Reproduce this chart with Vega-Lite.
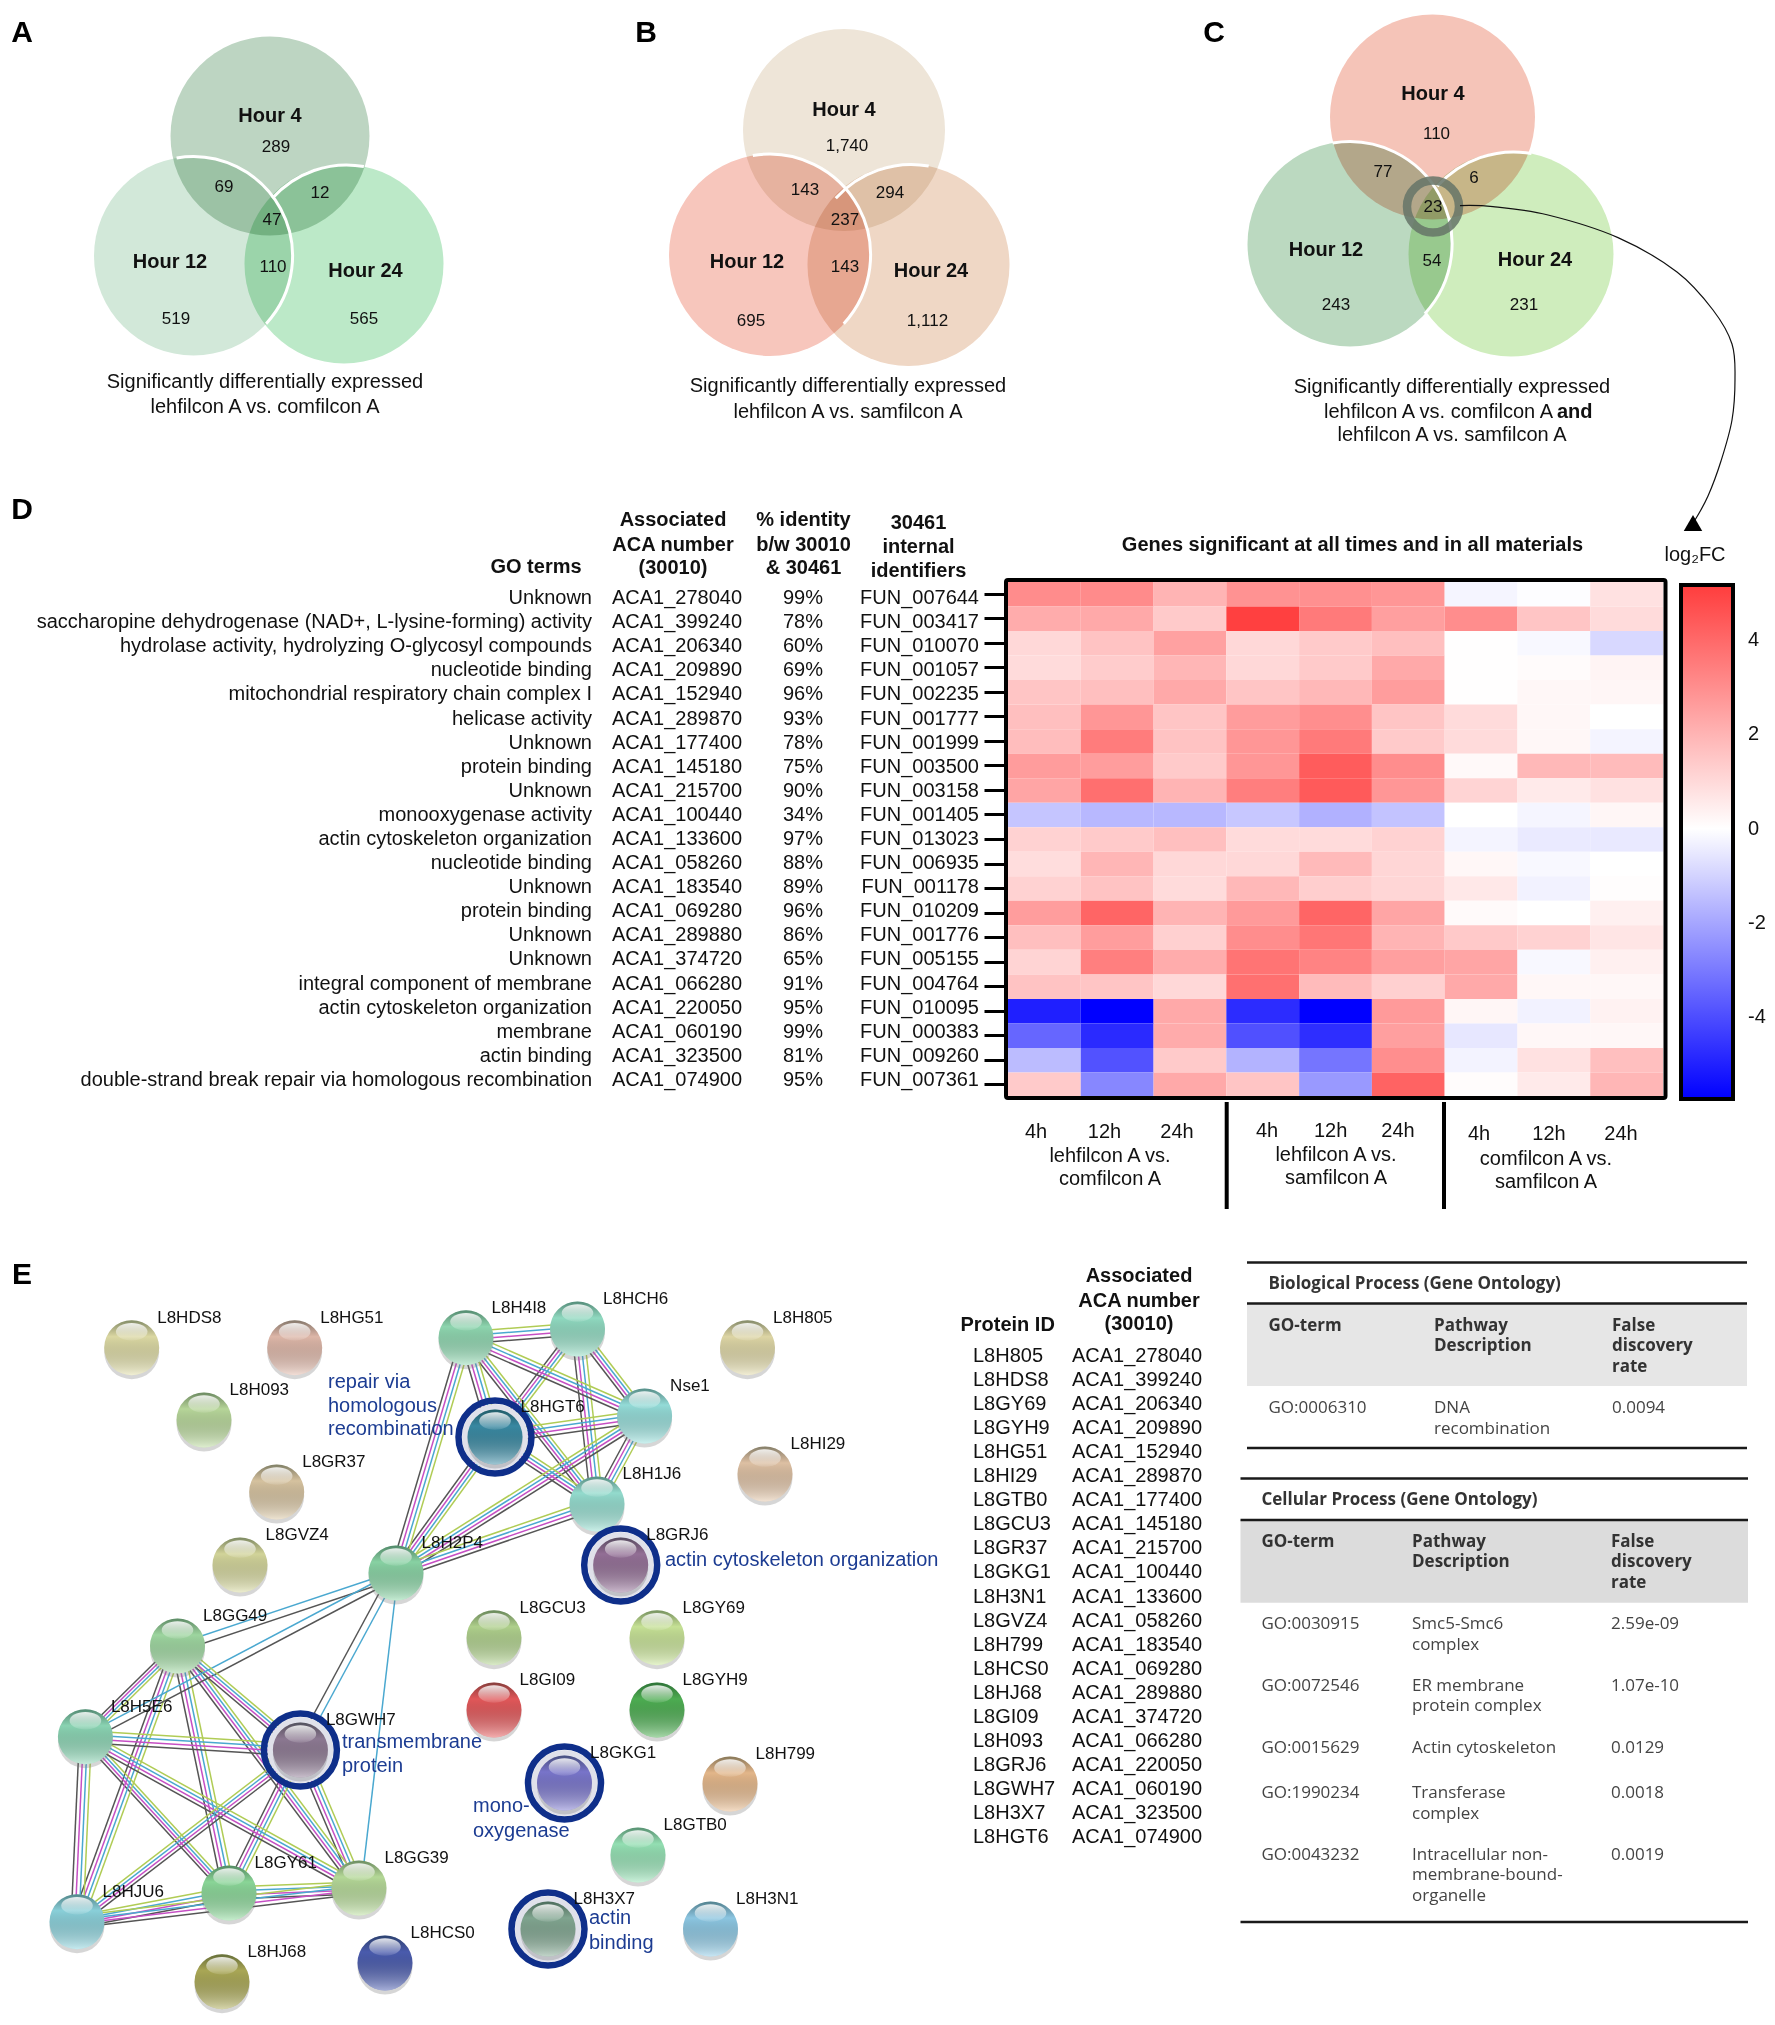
{"$schema":"https://vega.github.io/schema/vega-lite/v6.json","width":1775,"height":2025,"padding":0,"autosize":{"type":"none"},"background":"white","config":{"view":{"stroke":null},"text":{"font":"Liberation Sans"},"axis":{"grid":false}},"resolve":{"scale":{"x":"independent","y":"independent","color":"independent","size":"independent"}},"datasets":{"nodes":[{"id":"L8HDS8","x":131.7,"y":1347.7},{"id":"L8HG51","x":294.7,"y":1347.7},{"id":"L8H093","x":204,"y":1420},{"id":"L8GR37","x":276.7,"y":1492},{"id":"L8GVZ4","x":240,"y":1565},{"id":"L8H2P4","x":396,"y":1573},{"id":"L8GG49","x":177.5,"y":1646},{"id":"L8H4I8","x":466,"y":1337.7},{"id":"L8HCH6","x":577.5,"y":1329},{"id":"L8H805","x":747.5,"y":1347.7},{"id":"Nse1","x":644.6,"y":1416},{"id":"L8HGT6","x":495,"y":1437,"ring":true},{"id":"L8HI29","x":765,"y":1474},{"id":"L8H1J6","x":597,"y":1504},{"id":"L8GRJ6","x":620.7,"y":1565,"ring":true},{"id":"L8GCU3","x":494,"y":1637.7},{"id":"L8GY69","x":657,"y":1637.7},{"id":"L8H5E6","x":85.4,"y":1736.7},{"id":"L8GWH7","x":300.4,"y":1750,"ring":true},{"id":"L8GI09","x":494,"y":1710},{"id":"L8GYH9","x":657,"y":1710},{"id":"L8GKG1","x":564.5,"y":1783,"ring":true},{"id":"L8H799","x":730,"y":1784},{"id":"L8GG39","x":359,"y":1888},{"id":"L8GY61","x":229,"y":1893},{"id":"L8HJU6","x":77,"y":1921.7},{"id":"L8HJ68","x":222,"y":1981.7},{"id":"L8HCS0","x":385,"y":1963},{"id":"L8GTB0","x":638,"y":1855},{"id":"L8H3X7","x":548,"y":1929,"ring":true},{"id":"L8H3N1","x":710.5,"y":1929}],"edges":[{"source":"L8H4I8","target":"L8HGT6","dir":"V","ch":"full"},{"source":"L8H4I8","target":"L8H1J6","dir":"V","ch":"full"},{"source":"L8H4I8","target":"L8H2P4","dir":"V","ch":"full"},{"source":"L8HCH6","target":"Nse1","dir":"V","ch":"full"},{"source":"L8HCH6","target":"L8HGT6","dir":"V","ch":"full"},{"source":"L8HCH6","target":"L8H1J6","dir":"V","ch":"full"},{"source":"Nse1","target":"L8H1J6","dir":"V","ch":"full"},{"source":"L8HGT6","target":"L8H2P4","dir":"V","ch":"full"},{"source":"L8HGT6","target":"L8H1J6","dir":"H","ch":"full"},{"source":"L8H4I8","target":"L8HCH6","dir":"H","ch":"full"},{"source":"L8H4I8","target":"Nse1","dir":"H","ch":"full"},{"source":"Nse1","target":"L8HGT6","dir":"H","ch":"full"},{"source":"Nse1","target":"L8H2P4","dir":"H","ch":"full"},{"source":"L8H1J6","target":"L8H2P4","dir":"H","ch":"full"},{"source":"L8GG49","target":"L8H5E6","dir":"V","ch":"full"},{"source":"L8GG49","target":"L8GWH7","dir":"H","ch":"full"},{"source":"L8GG49","target":"L8HJU6","dir":"V","ch":"full"},{"source":"L8GG49","target":"L8GY61","dir":"V","ch":"full"},{"source":"L8GG49","target":"L8GG39","dir":"V","ch":"full"},{"source":"L8H5E6","target":"L8GWH7","dir":"H","ch":"full"},{"source":"L8H5E6","target":"L8HJU6","dir":"V","ch":"full"},{"source":"L8H5E6","target":"L8GY61","dir":"V","ch":"full"},{"source":"L8H5E6","target":"L8GG39","dir":"H","ch":"full"},{"source":"L8GWH7","target":"L8HJU6","dir":"H","ch":"full"},{"source":"L8GWH7","target":"L8GY61","dir":"V","ch":"full"},{"source":"L8GWH7","target":"L8GG39","dir":"V","ch":"full"},{"source":"L8HJU6","target":"L8GY61","dir":"H","ch":"full"},{"source":"L8HJU6","target":"L8GG39","dir":"H","ch":"full"},{"source":"L8GY61","target":"L8GG39","dir":"H","ch":"full"},{"source":"L8H2P4","target":"L8GG49","dir":"H","ch":"gc"},{"source":"L8H2P4","target":"L8H5E6","dir":"H","ch":"gc"},{"source":"L8H2P4","target":"L8GWH7","dir":"V","ch":"gc"},{"source":"L8H2P4","target":"L8GG39","dir":"V","ch":"c"}],"genes":[{"fun":"FUN_007644","go":"Unknown","aca":"ACA1_278040","pct":"99%"},{"fun":"FUN_003417","go":"saccharopine dehydrogenase (NAD+, L-lysine-forming) activity","aca":"ACA1_399240","pct":"78%"},{"fun":"FUN_010070","go":"hydrolase activity, hydrolyzing O-glycosyl compounds","aca":"ACA1_206340","pct":"60%"},{"fun":"FUN_001057","go":"nucleotide binding","aca":"ACA1_209890","pct":"69%"},{"fun":"FUN_002235","go":"mitochondrial respiratory chain complex I","aca":"ACA1_152940","pct":"96%"},{"fun":"FUN_001777","go":"helicase activity","aca":"ACA1_289870","pct":"93%"},{"fun":"FUN_001999","go":"Unknown","aca":"ACA1_177400","pct":"78%"},{"fun":"FUN_003500","go":"protein binding","aca":"ACA1_145180","pct":"75%"},{"fun":"FUN_003158","go":"Unknown","aca":"ACA1_215700","pct":"90%"},{"fun":"FUN_001405","go":"monooxygenase activity","aca":"ACA1_100440","pct":"34%"},{"fun":"FUN_013023","go":"actin cytoskeleton organization","aca":"ACA1_133600","pct":"97%"},{"fun":"FUN_006935","go":"nucleotide binding","aca":"ACA1_058260","pct":"88%"},{"fun":"FUN_001178","go":"Unknown","aca":"ACA1_183540","pct":"89%"},{"fun":"FUN_010209","go":"protein binding","aca":"ACA1_069280","pct":"96%"},{"fun":"FUN_001776","go":"Unknown","aca":"ACA1_289880","pct":"86%"},{"fun":"FUN_005155","go":"Unknown","aca":"ACA1_374720","pct":"65%"},{"fun":"FUN_004764","go":"integral component of membrane","aca":"ACA1_066280","pct":"91%"},{"fun":"FUN_010095","go":"actin cytoskeleton organization","aca":"ACA1_220050","pct":"95%"},{"fun":"FUN_000383","go":"membrane","aca":"ACA1_060190","pct":"99%"},{"fun":"FUN_009260","go":"actin binding","aca":"ACA1_323500","pct":"81%"},{"fun":"FUN_007361","go":"double-strand break repair via homologous recombination","aca":"ACA1_074900","pct":"95%"}],"proteins":[{"p":"L8H805","a":"ACA1_278040"},{"p":"L8HDS8","a":"ACA1_399240"},{"p":"L8GY69","a":"ACA1_206340"},{"p":"L8GYH9","a":"ACA1_209890"},{"p":"L8HG51","a":"ACA1_152940"},{"p":"L8HI29","a":"ACA1_289870"},{"p":"L8GTB0","a":"ACA1_177400"},{"p":"L8GCU3","a":"ACA1_145180"},{"p":"L8GR37","a":"ACA1_215700"},{"p":"L8GKG1","a":"ACA1_100440"},{"p":"L8H3N1","a":"ACA1_133600"},{"p":"L8GVZ4","a":"ACA1_058260"},{"p":"L8H799","a":"ACA1_183540"},{"p":"L8HCS0","a":"ACA1_069280"},{"p":"L8HJ68","a":"ACA1_289880"},{"p":"L8GI09","a":"ACA1_374720"},{"p":"L8H093","a":"ACA1_066280"},{"p":"L8GRJ6","a":"ACA1_220050"},{"p":"L8GWH7","a":"ACA1_060190"},{"p":"L8H3X7","a":"ACA1_323500"},{"p":"L8HGT6","a":"ACA1_074900"}],"venn":[{"key":"A4","h":4,"p":"A","x":270,"y":136},{"key":"A12","h":12,"p":"A","x":193.5,"y":256},{"key":"A24","h":24,"p":"A","x":344,"y":264},{"key":"B4","h":4,"p":"B","x":844,"y":130},{"key":"B12","h":12,"p":"B","x":770,"y":255},{"key":"B24","h":24,"p":"B","x":908.5,"y":265},{"key":"C4","h":4,"p":"C","x":1432.5,"y":117},{"key":"C12","h":12,"p":"C","x":1350,"y":244},{"key":"C24","h":24,"p":"C","x":1511,"y":254}],"cells":[
{"f":"FUN_007644","c":"lc 4h","v":3.07},{"f":"FUN_007644","c":"lc 12h","v":3.1},{"f":"FUN_007644","c":"lc 24h","v":2.0},{"f":"FUN_007644","c":"ls 4h","v":2.9},{"f":"FUN_007644","c":"ls 12h","v":2.95},{"f":"FUN_007644","c":"ls 24h","v":2.8},{"f":"FUN_007644","c":"cs 4h","v":-0.22},{"f":"FUN_007644","c":"cs 12h","v":-0.05},{"f":"FUN_007644","c":"cs 24h","v":0.8},
{"f":"FUN_003417","c":"lc 4h","v":2.2},{"f":"FUN_003417","c":"lc 12h","v":2.3},{"f":"FUN_003417","c":"lc 24h","v":1.4},{"f":"FUN_003417","c":"ls 4h","v":5.1},{"f":"FUN_003417","c":"ls 12h","v":3.55},{"f":"FUN_003417","c":"ls 24h","v":2.55},{"f":"FUN_003417","c":"cs 4h","v":3.05},{"f":"FUN_003417","c":"cs 12h","v":1.55},{"f":"FUN_003417","c":"cs 24h","v":0.95},
{"f":"FUN_010070","c":"lc 4h","v":1.05},{"f":"FUN_010070","c":"lc 12h","v":1.6},{"f":"FUN_010070","c":"lc 24h","v":2.5},{"f":"FUN_010070","c":"ls 4h","v":1.05},{"f":"FUN_010070","c":"ls 12h","v":1.4},{"f":"FUN_010070","c":"ls 24h","v":1.7},{"f":"FUN_010070","c":"cs 4h","v":0.02},{"f":"FUN_010070","c":"cs 12h","v":-0.15},{"f":"FUN_010070","c":"cs 24h","v":-0.88},
{"f":"FUN_001057","c":"lc 4h","v":0.95},{"f":"FUN_001057","c":"lc 12h","v":1.35},{"f":"FUN_001057","c":"lc 24h","v":1.95},{"f":"FUN_001057","c":"ls 4h","v":1.05},{"f":"FUN_001057","c":"ls 12h","v":1.4},{"f":"FUN_001057","c":"ls 24h","v":2.3},{"f":"FUN_001057","c":"cs 4h","v":0.03},{"f":"FUN_001057","c":"cs 12h","v":0.1},{"f":"FUN_001057","c":"cs 24h","v":0.3},
{"f":"FUN_002235","c":"lc 4h","v":1.55},{"f":"FUN_002235","c":"lc 12h","v":1.7},{"f":"FUN_002235","c":"lc 24h","v":2.3},{"f":"FUN_002235","c":"ls 4h","v":1.55},{"f":"FUN_002235","c":"ls 12h","v":1.9},{"f":"FUN_002235","c":"ls 24h","v":2.6},{"f":"FUN_002235","c":"cs 4h","v":0.02},{"f":"FUN_002235","c":"cs 12h","v":0.2},{"f":"FUN_002235","c":"cs 24h","v":0.25},
{"f":"FUN_001777","c":"lc 4h","v":1.7},{"f":"FUN_001777","c":"lc 12h","v":2.8},{"f":"FUN_001777","c":"lc 24h","v":1.55},{"f":"FUN_001777","c":"ls 4h","v":2.65},{"f":"FUN_001777","c":"ls 12h","v":3.0},{"f":"FUN_001777","c":"ls 24h","v":1.55},{"f":"FUN_001777","c":"cs 4h","v":0.95},{"f":"FUN_001777","c":"cs 12h","v":0.2},{"f":"FUN_001777","c":"cs 24h","v":0},
{"f":"FUN_001999","c":"lc 4h","v":1.75},{"f":"FUN_001999","c":"lc 12h","v":3.5},{"f":"FUN_001999","c":"lc 24h","v":1.6},{"f":"FUN_001999","c":"ls 4h","v":2.8},{"f":"FUN_001999","c":"ls 12h","v":3.55},{"f":"FUN_001999","c":"ls 24h","v":1.4},{"f":"FUN_001999","c":"cs 4h","v":0.95},{"f":"FUN_001999","c":"cs 12h","v":0.2},{"f":"FUN_001999","c":"cs 24h","v":-0.25},
{"f":"FUN_003500","c":"lc 4h","v":2.65},{"f":"FUN_003500","c":"lc 12h","v":2.6},{"f":"FUN_003500","c":"lc 24h","v":1.4},{"f":"FUN_003500","c":"ls 4h","v":2.8},{"f":"FUN_003500","c":"ls 12h","v":4.35},{"f":"FUN_003500","c":"ls 24h","v":3.05},{"f":"FUN_003500","c":"cs 4h","v":0.15},{"f":"FUN_003500","c":"cs 12h","v":1.9},{"f":"FUN_003500","c":"cs 24h","v":1.8},
{"f":"FUN_003158","c":"lc 4h","v":2.4},{"f":"FUN_003158","c":"lc 12h","v":3.85},{"f":"FUN_003158","c":"lc 24h","v":2.0},{"f":"FUN_003158","c":"ls 4h","v":3.45},{"f":"FUN_003158","c":"ls 12h","v":4.4},{"f":"FUN_003158","c":"ls 24h","v":2.8},{"f":"FUN_003158","c":"cs 4h","v":1.15},{"f":"FUN_003158","c":"cs 12h","v":0.55},{"f":"FUN_003158","c":"cs 24h","v":0.8},
{"f":"FUN_001405","c":"lc 4h","v":-1.3},{"f":"FUN_001405","c":"lc 12h","v":-1.6},{"f":"FUN_001405","c":"lc 24h","v":-1.6},{"f":"FUN_001405","c":"ls 4h","v":-1.25},{"f":"FUN_001405","c":"ls 12h","v":-1.75},{"f":"FUN_001405","c":"ls 24h","v":-1.35},{"f":"FUN_001405","c":"cs 4h","v":0},{"f":"FUN_001405","c":"cs 12h","v":-0.22},{"f":"FUN_001405","c":"cs 24h","v":0.25},
{"f":"FUN_013023","c":"lc 4h","v":1.2},{"f":"FUN_013023","c":"lc 12h","v":1.4},{"f":"FUN_013023","c":"lc 24h","v":1.7},{"f":"FUN_013023","c":"ls 4h","v":0.95},{"f":"FUN_013023","c":"ls 12h","v":0.95},{"f":"FUN_013023","c":"ls 24h","v":1.2},{"f":"FUN_013023","c":"cs 4h","v":-0.25},{"f":"FUN_013023","c":"cs 12h","v":-0.47},{"f":"FUN_013023","c":"cs 24h","v":-0.5},
{"f":"FUN_006935","c":"lc 4h","v":0.9},{"f":"FUN_006935","c":"lc 12h","v":1.95},{"f":"FUN_006935","c":"lc 24h","v":1.05},{"f":"FUN_006935","c":"ls 4h","v":1.05},{"f":"FUN_006935","c":"ls 12h","v":1.85},{"f":"FUN_006935","c":"ls 24h","v":1.1},{"f":"FUN_006935","c":"cs 4h","v":0.2},{"f":"FUN_006935","c":"cs 12h","v":-0.15},{"f":"FUN_006935","c":"cs 24h","v":0},
{"f":"FUN_001178","c":"lc 4h","v":1.2},{"f":"FUN_001178","c":"lc 12h","v":1.6},{"f":"FUN_001178","c":"lc 24h","v":0.95},{"f":"FUN_001178","c":"ls 4h","v":1.9},{"f":"FUN_001178","c":"ls 12h","v":1.3},{"f":"FUN_001178","c":"ls 24h","v":1.1},{"f":"FUN_001178","c":"cs 4h","v":0.6},{"f":"FUN_001178","c":"cs 12h","v":-0.3},{"f":"FUN_001178","c":"cs 24h","v":0.05},
{"f":"FUN_010209","c":"lc 4h","v":2.6},{"f":"FUN_010209","c":"lc 12h","v":4.1},{"f":"FUN_010209","c":"lc 24h","v":2.0},{"f":"FUN_010209","c":"ls 4h","v":2.7},{"f":"FUN_010209","c":"ls 12h","v":4.1},{"f":"FUN_010209","c":"ls 24h","v":2.4},{"f":"FUN_010209","c":"cs 4h","v":0.12},{"f":"FUN_010209","c":"cs 12h","v":0},{"f":"FUN_010209","c":"cs 24h","v":0.4},
{"f":"FUN_001776","c":"lc 4h","v":1.7},{"f":"FUN_001776","c":"lc 12h","v":2.6},{"f":"FUN_001776","c":"lc 24h","v":1.25},{"f":"FUN_001776","c":"ls 4h","v":3.05},{"f":"FUN_001776","c":"ls 12h","v":3.65},{"f":"FUN_001776","c":"ls 24h","v":2.0},{"f":"FUN_001776","c":"cs 4h","v":1.45},{"f":"FUN_001776","c":"cs 12h","v":1.2},{"f":"FUN_001776","c":"cs 24h","v":0.7},
{"f":"FUN_005155","c":"lc 4h","v":1.15},{"f":"FUN_005155","c":"lc 12h","v":3.4},{"f":"FUN_005155","c":"lc 24h","v":2.2},{"f":"FUN_005155","c":"ls 4h","v":3.7},{"f":"FUN_005155","c":"ls 12h","v":3.3},{"f":"FUN_005155","c":"ls 24h","v":2.55},{"f":"FUN_005155","c":"cs 4h","v":2.4},{"f":"FUN_005155","c":"cs 12h","v":-0.15},{"f":"FUN_005155","c":"cs 24h","v":0.4},
{"f":"FUN_004764","c":"lc 4h","v":1.6},{"f":"FUN_004764","c":"lc 12h","v":1.55},{"f":"FUN_004764","c":"lc 24h","v":1.05},{"f":"FUN_004764","c":"ls 4h","v":3.8},{"f":"FUN_004764","c":"ls 12h","v":1.8},{"f":"FUN_004764","c":"ls 24h","v":1.25},{"f":"FUN_004764","c":"cs 4h","v":2.3},{"f":"FUN_004764","c":"cs 12h","v":0.2},{"f":"FUN_004764","c":"cs 24h","v":0.2},
{"f":"FUN_010095","c":"lc 4h","v":-5.05},{"f":"FUN_010095","c":"lc 12h","v":-5.74},{"f":"FUN_010095","c":"lc 24h","v":2.3},{"f":"FUN_010095","c":"ls 4h","v":-4.75},{"f":"FUN_010095","c":"ls 12h","v":-5.74},{"f":"FUN_010095","c":"ls 24h","v":2.7},{"f":"FUN_010095","c":"cs 4h","v":0.25},{"f":"FUN_010095","c":"cs 12h","v":-0.3},{"f":"FUN_010095","c":"cs 24h","v":0.35},
{"f":"FUN_000383","c":"lc 4h","v":-3.45},{"f":"FUN_000383","c":"lc 12h","v":-4.8},{"f":"FUN_000383","c":"lc 24h","v":2.25},{"f":"FUN_000383","c":"ls 4h","v":-3.95},{"f":"FUN_000383","c":"ls 12h","v":-4.7},{"f":"FUN_000383","c":"ls 24h","v":2.55},{"f":"FUN_000383","c":"cs 4h","v":-0.55},{"f":"FUN_000383","c":"cs 12h","v":0.2},{"f":"FUN_000383","c":"cs 24h","v":0.2},
{"f":"FUN_009260","c":"lc 4h","v":-1.5},{"f":"FUN_009260","c":"lc 12h","v":-3.9},{"f":"FUN_009260","c":"lc 24h","v":1.4},{"f":"FUN_009260","c":"ls 4h","v":-1.7},{"f":"FUN_009260","c":"ls 12h","v":-3.1},{"f":"FUN_009260","c":"ls 24h","v":3.0},{"f":"FUN_009260","c":"cs 4h","v":-0.28},{"f":"FUN_009260","c":"cs 12h","v":0.8},{"f":"FUN_009260","c":"cs 24h","v":1.7},
{"f":"FUN_007361","c":"lc 4h","v":1.4},{"f":"FUN_007361","c":"lc 12h","v":-2.7},{"f":"FUN_007361","c":"lc 24h","v":2.3},{"f":"FUN_007361","c":"ls 4h","v":1.55},{"f":"FUN_007361","c":"ls 12h","v":-2.3},{"f":"FUN_007361","c":"ls 24h","v":4.15},{"f":"FUN_007361","c":"cs 4h","v":0.08},{"f":"FUN_007361","c":"cs 12h","v":0.55},{"f":"FUN_007361","c":"cs 24h","v":1.95}]},"layer":[
{"encoding":{"x":{"field":"x","type":"quantitative","axis":null,"scale":{"domain":[0,1775],"range":[0,1775]}},"y":{"field":"y","type":"quantitative","axis":null,"scale":{"domain":[0,2025],"range":[0,2025]}}},"layer":[
{"data":{"name":"venn"},"mark":{"type":"point","filled":true,"opacity":1,"shape":"circle","blend":"multiply"},"encoding":{"size":{"field":"p","type":"ordinal","legend":null,"scale":{"domain":["A","B","C"],"range":[39601,42025,44944]}},"color":{"field":"key","type":"nominal","legend":null,"scale":{"domain":["A4","A12","A24","B4","B12","B24","C4","C12","C24"],"range":["#bdd5c2","#d2e8d9","#bce9c8","#eee5d8","#f7c6bc","#efd7c5","#f5c4b8","#bbd9c0","#cfedbd"]}}}},
{"data":{"name":"venn"},"transform":[{"filter":"datum.h==12"}],"mark":{"type":"point","filled":false,"opacity":1,"color":"white","strokeWidth":3,"shape":"M -0.17 -0.985 A 1 1 0 0 1 0.73 0.68"},"encoding":{"size":{"field":"p","type":"ordinal","legend":null,"scale":{"domain":["A","B","C"],"range":[39601,42025,44944]}}}},
{"data":{"name":"venn"},"transform":[{"filter":"datum.h==24"}],"mark":{"type":"point","filled":false,"opacity":1,"color":"white","strokeWidth":3,"shape":"M -0.72 -0.66 A 1 1 0 0 1 0.2 -0.98"},"encoding":{"size":{"field":"p","type":"ordinal","legend":null,"scale":{"domain":["A","B","C"],"range":[39601,42025,44944]}}}},
{"data":{"values":[{"x":1433,"y":206.6}]},"mark":{"type":"point","filled":false,"opacity":0.85,"color":"#667568","strokeWidth":8.5,"size":2704,"shape":"circle"}},
{"data":{"values":[{"i":0,"x":1460,"y":205.6},{"i":1,"x":1493,"y":206.6},{"i":2,"x":1548,"y":215},{"i":3,"x":1618,"y":237.6},{"i":4,"x":1677,"y":272},{"i":5,"x":1713,"y":310},{"i":6,"x":1732,"y":344},{"i":7,"x":1735,"y":379},{"i":8,"x":1732,"y":420},{"i":9,"x":1721,"y":461},{"i":10,"x":1708,"y":496},{"i":11,"x":1695,"y":520}]},"mark":{"type":"line","interpolate":"cardinal","color":"#111","strokeWidth":1.2},"encoding":{"order":{"field":"i","type":"ordinal"}}},
{"data":{"values":[{"x":1693,"y":523}]},"mark":{"type":"point","filled":true,"opacity":1,"color":"black","shape":"triangle-up","size":340}},
{"data":{"values":[{"t":"A","x":22,"y":33},{"t":"B","x":646,"y":33},{"t":"C","x":1214,"y":33},{"t":"D","x":22,"y":510},{"t":"E","x":22,"y":1275}]},"mark":{"type":"text","fontWeight":"bold","fontSize":30,"align":"center","baseline":"middle","color":"black"},"encoding":{"text":{"field":"t"}}},
{"data":{"values":[{"t":"Hour 4","x":270,"y":116},{"t":"Hour 12","x":170,"y":262},{"t":"Hour 24","x":365.5,"y":271},{"t":"Hour 4","x":844,"y":110},{"t":"Hour 12","x":747,"y":262},{"t":"Hour 24","x":931,"y":271},{"t":"Hour 4","x":1433,"y":94},{"t":"Hour 12","x":1326,"y":250},{"t":"Hour 24","x":1535,"y":260}]},"mark":{"type":"text","fontWeight":"bold","fontSize":20,"align":"center","baseline":"middle","color":"#111"},"encoding":{"text":{"field":"t"}}},
{"data":{"values":[{"t":"289","x":276,"y":147},{"t":"69","x":224,"y":187},{"t":"12","x":320,"y":193},{"t":"47","x":272,"y":220},{"t":"110","x":273,"y":267},{"t":"519","x":176,"y":319},{"t":"565","x":364,"y":319},{"t":"1,740","x":847,"y":146},{"t":"143","x":805,"y":190},{"t":"294","x":890,"y":192.5},{"t":"237","x":845,"y":219.6},{"t":"143","x":845,"y":267},{"t":"695","x":751,"y":321},{"t":"1,112","x":927.5,"y":321},{"t":"110","x":1436.5,"y":134},{"t":"77","x":1383,"y":172},{"t":"6","x":1474,"y":178},{"t":"23","x":1433,"y":206.6},{"t":"54","x":1432,"y":261},{"t":"243","x":1336,"y":305},{"t":"231","x":1524,"y":305}]},"mark":{"type":"text","fontSize":17,"align":"center","baseline":"middle","color":"#111"},"encoding":{"text":{"field":"t"}}},
{"data":{"values":[{"t":"Significantly differentially expressed","x":265,"y":382},{"t":"lehfilcon A vs. comfilcon A","x":265,"y":407},{"t":"Significantly differentially expressed","x":848,"y":386},{"t":"lehfilcon A vs. samfilcon A","x":848,"y":412},{"t":"Significantly differentially expressed","x":1452,"y":387},{"t":"lehfilcon A vs. samfilcon A","x":1452,"y":435},{"t":"lehfilcon A vs.","x":1110,"y":1156},{"t":"comfilcon A","x":1110,"y":1179},{"t":"lehfilcon A vs.","x":1336,"y":1155},{"t":"samfilcon A","x":1336,"y":1178},{"t":"comfilcon A vs.","x":1546,"y":1158.5},{"t":"samfilcon A","x":1546,"y":1181.7},{"t":"log₂FC","x":1695,"y":555},{"t":"4h","x":1036,"y":1132},{"t":"12h","x":1104.5,"y":1132},{"t":"24h","x":1177,"y":1132},{"t":"4h","x":1267,"y":1131},{"t":"12h","x":1330.6,"y":1131},{"t":"24h","x":1398,"y":1131},{"t":"4h","x":1479,"y":1134},{"t":"12h","x":1549,"y":1134},{"t":"24h","x":1621,"y":1134}]},"mark":{"type":"text","fontSize":20,"align":"center","baseline":"middle","color":"#111"},"encoding":{"text":{"field":"t"}}},
{"data":{"values":[{"t":"lehfilcon A vs. comfilcon A","x":1553,"y":411.5}]},"mark":{"type":"text","fontSize":20,"align":"right","baseline":"middle","color":"#111"},"encoding":{"text":{"field":"t"}}},
{"data":{"values":[{"t":"and","x":1557,"y":411.5}]},"mark":{"type":"text","fontSize":20,"fontWeight":"bold","align":"left","baseline":"middle","color":"#111"},"encoding":{"text":{"field":"t"}}},
{"data":{"values":[{"t":"Associated","x":673,"y":520},{"t":"ACA number","x":673,"y":545},{"t":"(30010)","x":673,"y":568},{"t":"% identity","x":803.5,"y":520},{"t":"b/w 30010","x":803.5,"y":545},{"t":"& 30461","x":803.5,"y":568},{"t":"30461","x":918.5,"y":523},{"t":"internal","x":918.5,"y":547},{"t":"identifiers","x":918.5,"y":571},{"t":"GO terms","x":536,"y":567},{"t":"Genes significant at all times and in all materials","x":1352.5,"y":545},{"t":"Associated","x":1139,"y":1276},{"t":"ACA number","x":1139,"y":1300.5},{"t":"(30010)","x":1139,"y":1324},{"t":"Protein ID","x":1007.6,"y":1325}]},"mark":{"type":"text","fontSize":20,"fontWeight":"bold","align":"center","baseline":"middle","color":"#111"},"encoding":{"text":{"field":"t"}}},
{"data":{"values":[{"x":1226.7,"y":1102,"y2":1209},{"x":1444,"y":1102,"y2":1209}]},"mark":{"type":"rule","color":"black","strokeWidth":4},"encoding":{"y2":{"field":"y2"}}}]},
{"data":{"name":"cells"},"mark":{"type":"rect"},"encoding":{"x":{"field":"c","type":"nominal","sort":null,"axis":null,"scale":{"type":"band","range":[1008,1663],"paddingInner":0,"paddingOuter":0}},"y":{"field":"f","type":"nominal","sort":null,"scale":{"type":"band","range":[582,1097],"paddingInner":0,"paddingOuter":0},"axis":{"title":null,"orient":"left","offset":-1005,"domain":false,"ticks":true,"labels":false,"tickColor":"black","tickWidth":3,"tickSize":21}},"color":{"field":"v","type":"quantitative","scale":{"domain":[-5.74,0,5.17],"range":["#0000ff","#ffffff","#ff3d3d"],"interpolate":"rgb"},"legend":{"orient":"none","legendX":1681,"legendY":585,"title":null,"direction":"vertical","gradientLength":514,"gradientThickness":52,"gradientStrokeColor":"black","gradientStrokeWidth":4,"values":[-4,-2,0,2,4],"labelExpr":"''+datum.value","labelFontSize":20,"labelFont":"Liberation Sans","labelColor":"#111","labelOffset":15,"zindex":-1}}}},
{"data":{"name":"genes"},"encoding":{"y":{"field":"fun","type":"nominal","sort":null,"axis":null,"scale":{"range":[586,1092]}},"x":{"datum":592,"type":"quantitative","axis":null,"scale":{"domain":[0,1775],"range":[0,1775]}}},"layer":[
{"mark":{"type":"text","fontSize":20,"align":"right","baseline":"middle","color":"#111"},"encoding":{"text":{"field":"go"}}},
{"mark":{"type":"text","fontSize":20,"align":"center","baseline":"middle","color":"#111"},"encoding":{"x":{"datum":677,"type":"quantitative"},"text":{"field":"aca"}}},
{"mark":{"type":"text","fontSize":20,"align":"center","baseline":"middle","color":"#111"},"encoding":{"x":{"datum":803,"type":"quantitative"},"text":{"field":"pct"}}},
{"mark":{"type":"text","fontSize":20,"align":"right","baseline":"middle","color":"#111"},"encoding":{"x":{"datum":979,"type":"quantitative"},"text":{"field":"fun"}}}]},
{"data":{"name":"proteins"},"encoding":{"y":{"field":"p","type":"nominal","sort":null,"axis":null,"scale":{"range":[1344,1849]}},"x":{"datum":973,"type":"quantitative","axis":null,"scale":{"domain":[0,1775],"range":[0,1775]}}},"layer":[
{"mark":{"type":"text","fontSize":20,"align":"left","baseline":"middle","color":"#111"},"encoding":{"text":{"field":"p"}}},
{"mark":{"type":"text","fontSize":20,"align":"left","baseline":"middle","color":"#111"},"encoding":{"x":{"datum":1072,"type":"quantitative"},"text":{"field":"a"}}}]},
{"data":{"values":[{"v":-4},{"v":-2},{"v":0},{"v":2},{"v":4}]},"encoding":{"y":{"field":"v","type":"quantitative","axis":null,"scale":{"domain":[-5.74,5.17],"range":[1099,585]}},"x":{"datum":1682,"type":"quantitative","axis":null,"scale":{"domain":[0,1775],"range":[0,1775]}},"x2":{"datum":1690}},"layer":[
{"mark":{"type":"rule","color":"black","strokeWidth":3}},
{"mark":{"type":"rule","color":"black","strokeWidth":3},"encoding":{"x":{"datum":1724,"type":"quantitative"},"x2":{"datum":1732}}}]},
{"encoding":{"x":{"field":"x","type":"quantitative","axis":null,"scale":{"domain":[0,1775],"range":[0,1775]}},"y":{"field":"y","type":"quantitative","axis":null,"scale":{"domain":[0,2025],"range":[0,2025]}}},"layer":[
{"data":{"values":[{"x":1006,"x2":1665.5,"y":580,"y2":1098}]},"mark":{"type":"rect","fill":null,"stroke":"black","strokeWidth":4,"cornerRadius":2},"encoding":{"x2":{"field":"x2"},"y2":{"field":"y2"}}},
{"data":{"values":[{"x":1247,"x2":1747,"y":1304,"y2":1386}]},"mark":{"type":"rect","color":"#e6e6e6"},"encoding":{"x2":{"field":"x2"},"y2":{"field":"y2"}}},
{"data":{"values":[{"x":1240.5,"x2":1748,"y":1520,"y2":1602.7}]},"mark":{"type":"rect","color":"#dcdcdc"},"encoding":{"x2":{"field":"x2"},"y2":{"field":"y2"}}},
{"data":{"values":[{"x":1247,"x2":1747,"y":1262.5},{"x":1247,"x2":1747,"y":1303.6},{"x":1247,"x2":1747,"y":1448},{"x":1240.5,"x2":1748,"y":1478.6},{"x":1240.5,"x2":1748,"y":1520},{"x":1240.5,"x2":1748,"y":1922}]},"mark":{"type":"rule","color":"#1a1a1a","strokeWidth":2.5},"encoding":{"x2":{"field":"x2"}}},
{"data":{"values":[{"t":"Biological Process (Gene Ontology)","x":1268.5,"y":1284},{"t":"GO-term","x":1268.5,"y":1325.5},{"t":"Pathway","x":1434,"y":1325.5},{"t":"Description","x":1434,"y":1346},{"t":"False","x":1612,"y":1325.5},{"t":"discovery","x":1612,"y":1346},{"t":"rate","x":1612,"y":1367},{"t":"Cellular Process (Gene Ontology)","x":1261.4,"y":1499.7},{"t":"GO-term","x":1261.4,"y":1541.6},{"t":"Pathway","x":1412,"y":1541.6},{"t":"Description","x":1412,"y":1562},{"t":"False","x":1611,"y":1541.6},{"t":"discovery","x":1611,"y":1562},{"t":"rate","x":1611,"y":1582.7}]},"mark":{"type":"text","font":"Open Sans","fontWeight":"bold","fontSize":17,"align":"left","baseline":"middle","color":"#333"},"encoding":{"text":{"field":"t"}}},
{"data":{"values":[{"t":"GO:0006310","x":1268.5,"y":1407.7},{"t":"DNA","x":1434,"y":1407.7},{"t":"recombination","x":1434,"y":1428.7},{"t":"0.0094","x":1612,"y":1407.7},{"t":"GO:0030915","x":1261.4,"y":1623.8},{"t":"Smc5-Smc6","x":1412,"y":1623.8},{"t":"complex","x":1412,"y":1644.7},{"t":"2.59e-09","x":1611,"y":1623.8},{"t":"GO:0072546","x":1261.4,"y":1685.8},{"t":"ER membrane","x":1412,"y":1685.8},{"t":"protein complex","x":1412,"y":1706},{"t":"1.07e-10","x":1611,"y":1685.8},{"t":"GO:0015629","x":1261.4,"y":1748},{"t":"Actin cytoskeleton","x":1412,"y":1748},{"t":"0.0129","x":1611,"y":1748},{"t":"GO:1990234","x":1261.4,"y":1792.5},{"t":"Transferase","x":1412,"y":1792.5},{"t":"complex","x":1412,"y":1813.5},{"t":"0.0018","x":1611,"y":1792.5},{"t":"GO:0043232","x":1261.4,"y":1854.6},{"t":"Intracellular non-","x":1412,"y":1854.6},{"t":"membrane-bound-","x":1412,"y":1875},{"t":"organelle","x":1412,"y":1895.6},{"t":"0.0019","x":1611,"y":1854.6}]},"mark":{"type":"text","font":"Open Sans","fontSize":17,"align":"left","baseline":"middle","color":"#444"},"encoding":{"text":{"field":"t"}}}]},
{"encoding":{"x":{"field":"x","type":"quantitative","axis":null,"scale":{"domain":[0,1775],"range":[0,1775]}},"y":{"field":"y","type":"quantitative","axis":null,"scale":{"domain":[0,2025],"range":[0,2025]}}},"layer":[
{"data":{"name":"edges"},"transform":[{"lookup":"source","from":{"data":{"name":"nodes"},"key":"id","fields":["x","y"]}},{"lookup":"target","from":{"data":{"name":"nodes"},"key":"id","fields":["x","y"]},"as":["x2","y2"]}],"encoding":{"x2":{"field":"x2"},"y2":{"field":"y2"}},"layer":[
{"transform":[{"filter":"datum.dir=='V' && datum.ch!='c'"}],"mark":{"type":"rule","color":"#555555","strokeWidth":1.5,"xOffset":-6,"x2Offset":-6}},
{"transform":[{"filter":"datum.dir=='V' && datum.ch=='full'"}],"mark":{"type":"rule","color":"#c64fc4","strokeWidth":1.5,"xOffset":-2,"x2Offset":-2}},
{"transform":[{"filter":"datum.dir=='V'"}],"mark":{"type":"rule","color":"#4aa8d0","strokeWidth":1.5,"xOffset":2,"x2Offset":2}},
{"transform":[{"filter":"datum.dir=='V' && datum.ch=='full'"}],"mark":{"type":"rule","color":"#b0cc55","strokeWidth":1.5,"xOffset":6,"x2Offset":6}},
{"transform":[{"filter":"datum.dir=='H' && datum.ch!='c'"}],"mark":{"type":"rule","color":"#555555","strokeWidth":1.5,"yOffset":6,"y2Offset":6}},
{"transform":[{"filter":"datum.dir=='H' && datum.ch=='full'"}],"mark":{"type":"rule","color":"#c64fc4","strokeWidth":1.5,"yOffset":2,"y2Offset":2}},
{"transform":[{"filter":"datum.dir=='H'"}],"mark":{"type":"rule","color":"#4aa8d0","strokeWidth":1.5,"yOffset":-2,"y2Offset":-2}},
{"transform":[{"filter":"datum.dir=='H' && datum.ch=='full'"}],"mark":{"type":"rule","color":"#b0cc55","strokeWidth":1.5,"yOffset":-6,"y2Offset":-6}}]},
{"data":{"name":"nodes"},"transform":[{"filter":"datum.ring"}],"mark":{"type":"point","filled":true,"opacity":1,"color":"#e0e1ea","size":4356,"shape":"circle"}},
{"data":{"name":"nodes"},"mark":{"type":"point","filled":true,"opacity":0.3,"color":"#777777","size":3025,"shape":"circle","yOffset":4}},
{"data":{"name":"nodes"},"mark":{"type":"point","filled":true,"opacity":1,"size":3025,"shape":"circle"},"encoding":{"color":{"field":"id","type":"nominal","legend":null,"scale":{"domain":["L8HDS8","L8HG51","L8H093","L8GR37","L8GVZ4","L8H2P4","L8GG49","L8H4I8","L8HCH6","L8H805","Nse1","L8HGT6","L8HI29","L8H1J6","L8GRJ6","L8GCU3","L8GY69","L8H5E6","L8GWH7","L8GI09","L8GYH9","L8GKG1","L8H799","L8GG39","L8GY61","L8HJU6","L8HJ68","L8HCS0","L8GTB0","L8H3X7","L8H3N1"],"range":["#e2dfa8","#e4bcad","#bcdc9e","#dcc8a4","#d8da9e","#8cd8a8","#a2dca4","#92dcb4","#94e0c6","#e4dcaa","#98e2de","#3a8ca6","#e4c6a8","#98e2d4","#97729a","#b4d690","#cce89a","#8edab8","#907c96","#e85a5c","#4fb254","#7c78d0","#eabc8e","#badf9c","#8edc9c","#8ed6e0","#aeac58","#4c5eb2","#98e6b8","#84aa94","#90cce8"]}}}},
{"data":{"name":"nodes"},"mark":{"type":"point","filled":true,"opacity":1,"size":3025,"shape":"circle","fill":{"gradient":"linear","x1":0,"y1":0,"x2":0,"y2":1,"stops":[{"offset":0,"color":"rgba(0,30,20,0.42)"},{"offset":0.3,"color":"rgba(0,0,0,0.03)"},{"offset":1,"color":"rgba(255,255,255,0.5)"}]}}},
{"data":{"name":"nodes"},"mark":{"type":"point","filled":true,"opacity":1,"size":1000,"shape":"M -1 0 A 1 0.55 0 1 1 1 0 A 1 0.55 0 1 1 -1 0 Z","yOffset":-16,"fill":{"gradient":"linear","x1":0,"y1":0,"x2":0,"y2":1,"stops":[{"offset":0,"color":"rgba(255,255,255,0.85)"},{"offset":1,"color":"rgba(255,255,255,0.1)"}]}}},
{"data":{"name":"nodes"},"transform":[{"filter":"datum.ring"}],"mark":{"type":"point","filled":false,"opacity":1,"color":"#0f2f8a","strokeWidth":6.5,"size":5329,"shape":"circle"}},
{"data":{"name":"nodes"},"mark":{"type":"text","fontSize":17,"align":"left","baseline":"middle","dx":25.5,"dy":-30,"color":"#111"},"encoding":{"text":{"field":"id"}}},
{"data":{"values":[{"t":"repair via","x":328,"y":1382},{"t":"homologous","x":328,"y":1405.7},{"t":"recombination","x":328,"y":1429},{"t":"actin cytoskeleton organization","x":665,"y":1560},{"t":"transmembrane","x":342,"y":1741.7},{"t":"protein","x":342,"y":1765.7},{"t":"mono-","x":473,"y":1806},{"t":"oxygenase","x":473,"y":1830.7},{"t":"actin","x":589,"y":1918},{"t":"binding","x":589,"y":1943}]},"mark":{"type":"text","fontSize":20,"align":"left","baseline":"middle","color":"#1c3c92"},"encoding":{"text":{"field":"t"}}}]}
]}
